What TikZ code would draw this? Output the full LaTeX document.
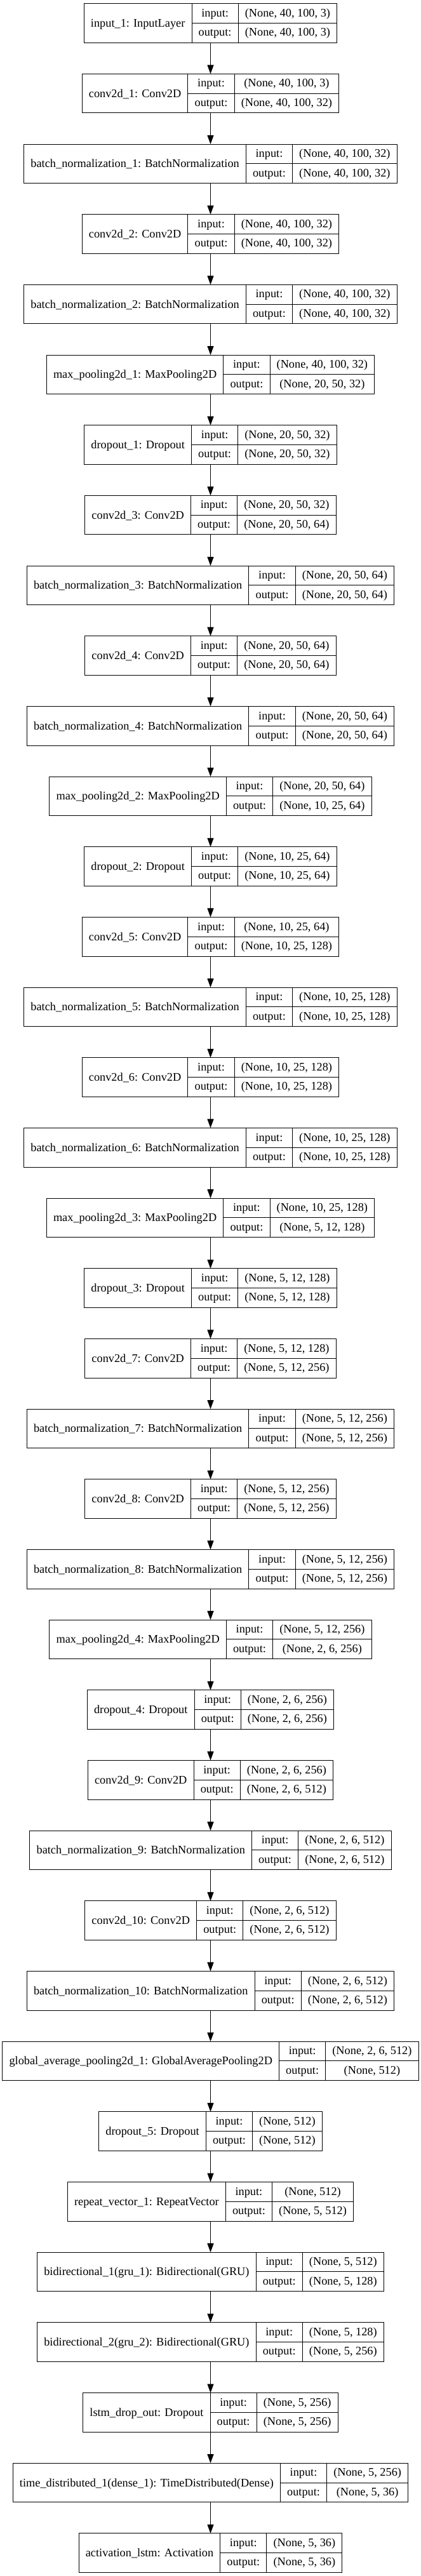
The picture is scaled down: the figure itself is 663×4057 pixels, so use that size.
\documentclass[tikz,border=0pt]{standalone}
\usepackage{fontspec}
\setmainfont{Liberation Serif}
\usetikzlibrary{arrows.meta}
\newlength\recwL
\newlength\recwIO
\newlength\recwS
\newlength\recwT
\newcommand\recfont{\fontsize{18.3}{22}\selectfont}
\tikzset{
  recbox/.style={draw=black, line width=1pt, inner sep=0pt, outer sep=0pt, minimum height=61.6pt},
  recline/.style={draw=black, line width=1pt},
  rectxt/.style={anchor=base, inner sep=0pt, font=\recfont, text=black},
  conn/.style={draw=black, line width=1pt, -{Triangle[length=14pt,width=10pt]}}
}
% #1 node name, #2 rank index, #3 label, #4 input shape, #5 output shape
\newcommand\reclayer[5]{%
  \pgfinterruptpicture
    \normalfont\recfont
    \settowidth\recwL{#3}\global\recwL=\recwL
    \settowidth\recwIO{output:}\global\recwIO=\recwIO
    \settowidth\recwS{#4}\global\recwS=\recwS
    \settowidth\recwT{#5}\global\recwT=\recwT
  \endpgfinterruptpicture
  \ifdim\recwT>\recwS \recwS=\recwT\fi
  \pgfmathsetmacro\recCL{\recwL+21.3}%
  \pgfmathsetmacro\recCIO{\recwIO+21.3}%
  \pgfmathsetmacro\recCS{\recwS+21.3}%
  \pgfmathsetmacro\recW{\recCL+\recCIO+\recCS}%
  \pgfmathsetmacro\recXa{331.5-\recW/2}%
  \pgfmathsetmacro\recXb{\recXa+\recCL}%
  \pgfmathsetmacro\recXc{\recXb+\recCIO}%
  \pgfmathsetmacro\recXd{\recXc+\recCS}%
  \pgfmathsetmacro\recYt{5.7+#2*110.67}%
  \pgfmathsetmacro\recYm{\recYt+30.8}%
  \pgfmathsetmacro\recYb{\recYt+61.6}%
  \node[recbox, minimum width=\recW pt, anchor=north west] (#1) at (\recXa,\recYt) {};
  \draw[recline] (\recXb,\recYt) -- (\recXb,\recYb)
                 (\recXc,\recYt) -- (\recXc,\recYb)
                 (\recXb,\recYm) -- (\recXd,\recYm);
  \node[rectxt] (#1-l) at ({(\recXa+\recXb)/2},{\recYm+6}) {#3};
  \node[rectxt] (#1-i) at ({(\recXb+\recXc)/2},{\recYt+15.4+5.2}) {input:};
  \node[rectxt] (#1-o) at ({(\recXb+\recXc)/2},{\recYm+15.4+4.8}) {output:};
  \node[rectxt] (#1-is) at ({(\recXc+\recXd)/2},{\recYt+15.4+5.2}) {#4};
  \node[rectxt] (#1-os) at ({(\recXc+\recXd)/2},{\recYm+15.4+4.8}) {#5};
}
\begin{document}
\begin{tikzpicture}[x=1pt,y=-1pt]
\useasboundingbox[fill=white] (0,0) rectangle (663,4057);
\reclayer{n0}{0}{input\_1: InputLayer}{(None, 40, 100, 3)}{(None, 40, 100, 3)}
\reclayer{n1}{1}{conv2d\_1: Conv2D}{(None, 40, 100, 3)}{(None, 40, 100, 32)}
\reclayer{n2}{2}{batch\_normalization\_1: BatchNormalization}{(None, 40, 100, 32)}{(None, 40, 100, 32)}
\reclayer{n3}{3}{conv2d\_2: Conv2D}{(None, 40, 100, 32)}{(None, 40, 100, 32)}
\reclayer{n4}{4}{batch\_normalization\_2: BatchNormalization}{(None, 40, 100, 32)}{(None, 40, 100, 32)}
\reclayer{n5}{5}{max\_pooling2d\_1: MaxPooling2D}{(None, 40, 100, 32)}{(None, 20, 50, 32)}
\reclayer{n6}{6}{dropout\_1: Dropout}{(None, 20, 50, 32)}{(None, 20, 50, 32)}
\reclayer{n7}{7}{conv2d\_3: Conv2D}{(None, 20, 50, 32)}{(None, 20, 50, 64)}
\reclayer{n8}{8}{batch\_normalization\_3: BatchNormalization}{(None, 20, 50, 64)}{(None, 20, 50, 64)}
\reclayer{n9}{9}{conv2d\_4: Conv2D}{(None, 20, 50, 64)}{(None, 20, 50, 64)}
\reclayer{n10}{10}{batch\_normalization\_4: BatchNormalization}{(None, 20, 50, 64)}{(None, 20, 50, 64)}
\reclayer{n11}{11}{max\_pooling2d\_2: MaxPooling2D}{(None, 20, 50, 64)}{(None, 10, 25, 64)}
\reclayer{n12}{12}{dropout\_2: Dropout}{(None, 10, 25, 64)}{(None, 10, 25, 64)}
\reclayer{n13}{13}{conv2d\_5: Conv2D}{(None, 10, 25, 64)}{(None, 10, 25, 128)}
\reclayer{n14}{14}{batch\_normalization\_5: BatchNormalization}{(None, 10, 25, 128)}{(None, 10, 25, 128)}
\reclayer{n15}{15}{conv2d\_6: Conv2D}{(None, 10, 25, 128)}{(None, 10, 25, 128)}
\reclayer{n16}{16}{batch\_normalization\_6: BatchNormalization}{(None, 10, 25, 128)}{(None, 10, 25, 128)}
\reclayer{n17}{17}{max\_pooling2d\_3: MaxPooling2D}{(None, 10, 25, 128)}{(None, 5, 12, 128)}
\reclayer{n18}{18}{dropout\_3: Dropout}{(None, 5, 12, 128)}{(None, 5, 12, 128)}
\reclayer{n19}{19}{conv2d\_7: Conv2D}{(None, 5, 12, 128)}{(None, 5, 12, 256)}
\reclayer{n20}{20}{batch\_normalization\_7: BatchNormalization}{(None, 5, 12, 256)}{(None, 5, 12, 256)}
\reclayer{n21}{21}{conv2d\_8: Conv2D}{(None, 5, 12, 256)}{(None, 5, 12, 256)}
\reclayer{n22}{22}{batch\_normalization\_8: BatchNormalization}{(None, 5, 12, 256)}{(None, 5, 12, 256)}
\reclayer{n23}{23}{max\_pooling2d\_4: MaxPooling2D}{(None, 5, 12, 256)}{(None, 2, 6, 256)}
\reclayer{n24}{24}{dropout\_4: Dropout}{(None, 2, 6, 256)}{(None, 2, 6, 256)}
\reclayer{n25}{25}{conv2d\_9: Conv2D}{(None, 2, 6, 256)}{(None, 2, 6, 512)}
\reclayer{n26}{26}{batch\_normalization\_9: BatchNormalization}{(None, 2, 6, 512)}{(None, 2, 6, 512)}
\reclayer{n27}{27}{conv2d\_10: Conv2D}{(None, 2, 6, 512)}{(None, 2, 6, 512)}
\reclayer{n28}{28}{batch\_normalization\_10: BatchNormalization}{(None, 2, 6, 512)}{(None, 2, 6, 512)}
\reclayer{n29}{29}{global\_average\_pooling2d\_1: GlobalAveragePooling2D}{(None, 2, 6, 512)}{(None, 512)}
\reclayer{n30}{30}{dropout\_5: Dropout}{(None, 512)}{(None, 512)}
\reclayer{n31}{31}{repeat\_vector\_1: RepeatVector}{(None, 512)}{(None, 5, 512)}
\reclayer{n32}{32}{bidirectional\_1(gru\_1): Bidirectional(GRU)}{(None, 5, 512)}{(None, 5, 128)}
\reclayer{n33}{33}{bidirectional\_2(gru\_2): Bidirectional(GRU)}{(None, 5, 128)}{(None, 5, 256)}
\reclayer{n34}{34}{lstm\_drop\_out: Dropout}{(None, 5, 256)}{(None, 5, 256)}
\reclayer{n35}{35}{time\_distributed\_1(dense\_1): TimeDistributed(Dense)}{(None, 5, 256)}{(None, 5, 36)}
\reclayer{n36}{36}{activation\_lstm: Activation}{(None, 5, 36)}{(None, 5, 36)}
\foreach \a/\b in {n0/n1,n1/n2,n2/n3,n3/n4,n4/n5,n5/n6,n6/n7,n7/n8,n8/n9,n9/n10,n10/n11,n11/n12,n12/n13,n13/n14,n14/n15,n15/n16,n16/n17,n17/n18,n18/n19,n19/n20,n20/n21,n21/n22,n22/n23,n23/n24,n24/n25,n25/n26,n26/n27,n27/n28,n28/n29,n29/n30,n30/n31,n31/n32,n32/n33,n33/n34,n34/n35,n35/n36}
  \draw[conn] (\a.south) -- (\b.north);
\end{tikzpicture}
\end{document}
